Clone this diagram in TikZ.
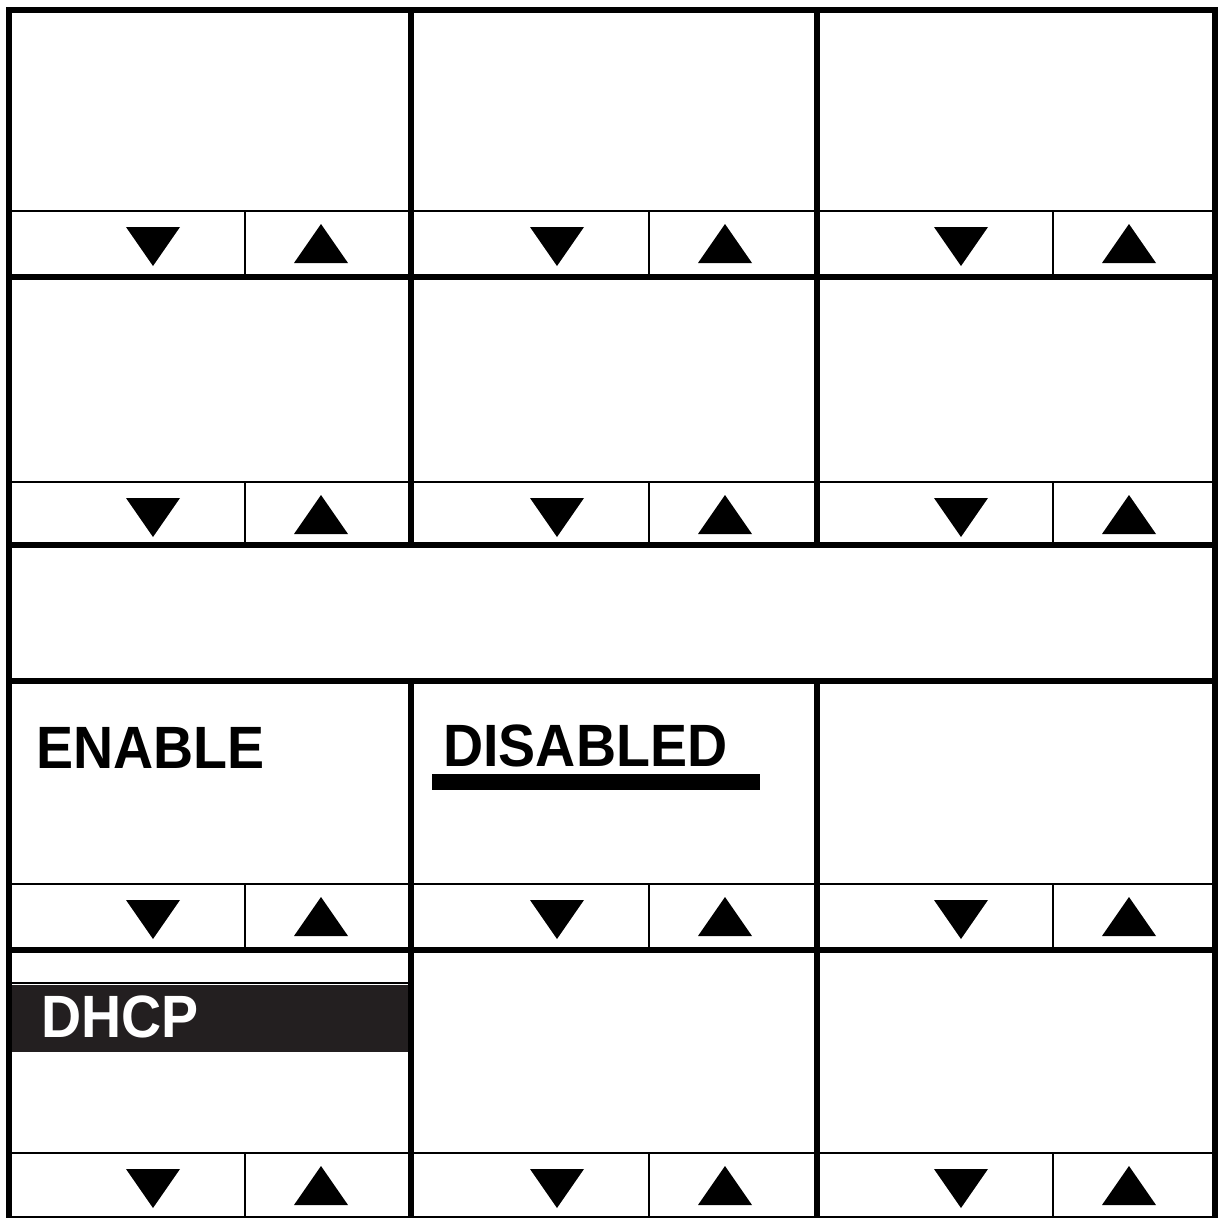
\documentclass[tikz,border=0pt]{standalone}
\usepackage{fontspec}
\newfontfamily\panelfont[FakeStretch=0.93]{Liberation Sans}
\usepackage{tikz}
\usetikzlibrary{positioning}
\definecolor{barfill}{RGB}{35,31,32}

\begin{document}
\begin{tikzpicture}[
  x=0.02cm, y=-0.02cm,
  frame/.style={line width=3.4pt, line cap=rect},
  rule/.style={line width=0.9pt},
  word/.style={font=\panelfont\bfseries\fontsize{34}{34}\selectfont,
    inner sep=0pt, anchor=base west},
]
  \useasboundingbox (0,0) rectangle (1225,1218);

  % DHCP bar
  \fill[barfill] (11,985) rectangle (411,1052);
  \draw[rule] (9,983) -- (411,983);

  % Panels with their down/up keys
  \foreach \ya/\ym/\yb in {10/211/277, 277/482/545, 681/884/950, 950/1153/1217} {
    \draw[rule] (9,\ym) -- (1215,\ym);
    \foreach \c in {0,404,808} {
      \draw[rule] (245+\c,\ym) -- (245+\c,\yb);
      \fill (126+\c,\ym+16) -- (180+\c,\ym+16) -- (153+\c,\ym+55) -- cycle;
      \fill (294+\c,\ym+52) -- (348+\c,\ym+52) -- (321+\c,\ym+13) -- cycle;
    }
    \draw[frame] (411,\ya) -- (411,\yb) (817,\ya) -- (817,\yb);
  }

  % Frame
  \draw[frame] (9,1217) -- (9,10) -- (1215,10) -- (1215,1217);
  \draw[rule] (9,1217) -- (1215,1217);
  \foreach \y in {277,545,681,950}
    \draw[frame] (9,\y) -- (1215,\y);

  % Labels
  \node[word] (enable) at (36,768) {ENABLE};
  \node[word] (disabled) at (443,766) {DISABLED};
  \fill (432,774) rectangle (760,790);
  \node[word, text=white] (dhcp) at (41,1037) {DHCP};
\end{tikzpicture}
\end{document}
